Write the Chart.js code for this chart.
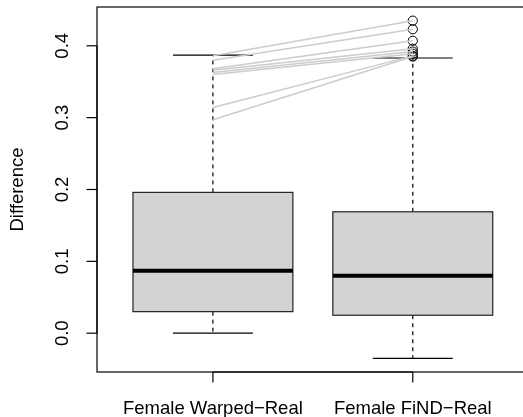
<!DOCTYPE html>
<html>
<head>
<meta charset="utf-8">
<script src="https://cdn.jsdelivr.net/npm/chart.js@4/dist/chart.umd.min.js"></script>
<style>
  html, body { margin: 0; padding: 0; background: #fff; overflow: hidden; }
  #wrap { width: 523px; height: 417px; overflow: hidden; }
</style>
</head>
<body>
<div id="wrap"><canvas id="chart" width="535" height="417" style="width:535px;height:417px"></canvas></div>
<script>
// box statistics
const groups = ['Female Warped\u2212Real', 'Female FiND\u2212Real'];
const lowerWhisker = [0.000, -0.035];
const q1 = [0.030, 0.025];
const median = [0.087, 0.080];
const q3 = [0.196, 0.169];
const upperWhisker = [0.387, 0.383];
const outliersFind = [0.435, 0.423, 0.407, 0.396, 0.392, 0.389, 0.386, 0.385];

// paired values joined by grey lines (warped -> FiND)
const pairedWarped = [0.386, 0.380, 0.368, 0.366, 0.363, 0.360, 0.314, 0.297];
const pairedFind = [0.435, 0.423, 0.407, 0.396, 0.392, 0.389, 0.386, 0.385];

const yTicks = [0.0, 0.1, 0.2, 0.3, 0.4];
const yTitle = 'Difference';

const FONT = '18.5px "Liberation Sans", Arial, sans-serif';

function seg(ctx, x1, y1, x2, y2) {
    ctx.beginPath();
    ctx.moveTo(x1, y1);
    ctx.lineTo(x2, y2);
    ctx.stroke();
}

const boxPlugin = {
    id: 'rBoxplot',
    beforeDatasetsDraw(chart) {
        const ctx = chart.ctx;
        const x = chart.scales.x, y = chart.scales.y;
        ctx.save();
        groups.forEach((g, i) => {
            const cx = x.getPixelForValue(i + 1);
            const half = x.getPixelForValue(i + 1.4) - cx;
            const cap = half / 2;
            const yLo = y.getPixelForValue(lowerWhisker[i]);
            const yQ1 = y.getPixelForValue(q1[i]);
            const yMed = y.getPixelForValue(median[i]);
            const yQ3 = y.getPixelForValue(q3[i]);
            const yHi = y.getPixelForValue(upperWhisker[i]);

            ctx.strokeStyle = '#000';
            ctx.lineWidth = 1.2;
            ctx.setLineDash([4, 4]);
            seg(ctx, cx, yQ3, cx, yHi);
            seg(ctx, cx, yQ1, cx, yLo);
            ctx.setLineDash([]);
            seg(ctx, cx - cap, yHi, cx + cap, yHi);
            seg(ctx, cx - cap, yLo, cx + cap, yLo);

            ctx.fillStyle = '#d3d3d3';
            ctx.fillRect(cx - half, yQ3, half * 2, yQ1 - yQ3);
            ctx.strokeStyle = '#222';
            ctx.lineWidth = 1.2;
            ctx.strokeRect(cx - half, yQ3, half * 2, yQ1 - yQ3);

            ctx.strokeStyle = '#000';
            ctx.lineWidth = 4;
            seg(ctx, cx - half, yMed, cx + half, yMed);
        });
        ctx.restore();
    },
    afterDraw(chart) {
        const ctx = chart.ctx;
        const x = chart.scales.x, y = chart.scales.y;
        const a = chart.chartArea;
        ctx.save();
        ctx.strokeStyle = '#000';
        ctx.lineWidth = 1.2;
        ctx.strokeRect(a.left, a.top, a.right - a.left, a.bottom - a.top);

        ctx.fillStyle = '#000';
        ctx.font = FONT;

        // left axis
        seg(ctx, a.left, y.getPixelForValue(yTicks[0]), a.left, y.getPixelForValue(yTicks[yTicks.length - 1]));
        yTicks.forEach(v => {
            const py = y.getPixelForValue(v);
            seg(ctx, a.left - 10.5, py, a.left, py);
            ctx.save();
            ctx.translate(a.left - 29, py);
            ctx.rotate(-Math.PI / 2);
            ctx.textAlign = 'center';
            ctx.textBaseline = 'alphabetic';
            ctx.fillText(v.toFixed(1), 0, 0);
            ctx.restore();
        });
        ctx.save();
        ctx.translate(a.left - 74, (a.top + a.bottom) / 2);
        ctx.rotate(-Math.PI / 2);
        ctx.textAlign = 'center';
        ctx.textBaseline = 'alphabetic';
        ctx.fillText(yTitle, 0, 0);
        ctx.restore();

        // bottom axis
        seg(ctx, x.getPixelForValue(1), a.bottom, x.getPixelForValue(groups.length), a.bottom);
        ctx.textAlign = 'center';
        ctx.textBaseline = 'alphabetic';
        groups.forEach((g, i) => {
            const px = x.getPixelForValue(i + 1);
            seg(ctx, px, a.bottom, px, a.bottom + 10.5);
            ctx.fillText(g, px, a.bottom + 41.5);
        });
        ctx.restore();
    }
};

const datasets = [];
pairedWarped.forEach((v, k) => {
    datasets.push({
        type: 'line',
        data: [{ x: 1, y: v }, { x: 2, y: pairedFind[k] }],
        borderColor: '#cccccc',
        borderWidth: 1.5,
        pointRadius: 0,
        fill: false,
        order: 0
    });
});
datasets.push({
    type: 'scatter',
    data: outliersFind.map(v => ({ x: 2, y: v })),
    pointStyle: 'circle',
    pointRadius: 4.6,
    borderColor: '#000',
    borderWidth: 1,
    backgroundColor: 'rgba(0,0,0,0)',
    order: 1
});

new Chart(document.getElementById('chart'), {
    type: 'scatter',
    data: { datasets: datasets },
    options: {
        responsive: false,
        animation: false,
        events: [],
        layout: { padding: { left: 97, top: 7, right: 6.3, bottom: 45 } },
        plugins: { legend: { display: false }, tooltip: { enabled: false } },
        scales: {
            x: { type: 'linear', min: 0.42, max: 2.58, display: false },
            y: { type: 'linear', min: -0.054, max: 0.454, display: false }
        }
    },
    plugins: [boxPlugin]
});
</script>
</body>
</html>
